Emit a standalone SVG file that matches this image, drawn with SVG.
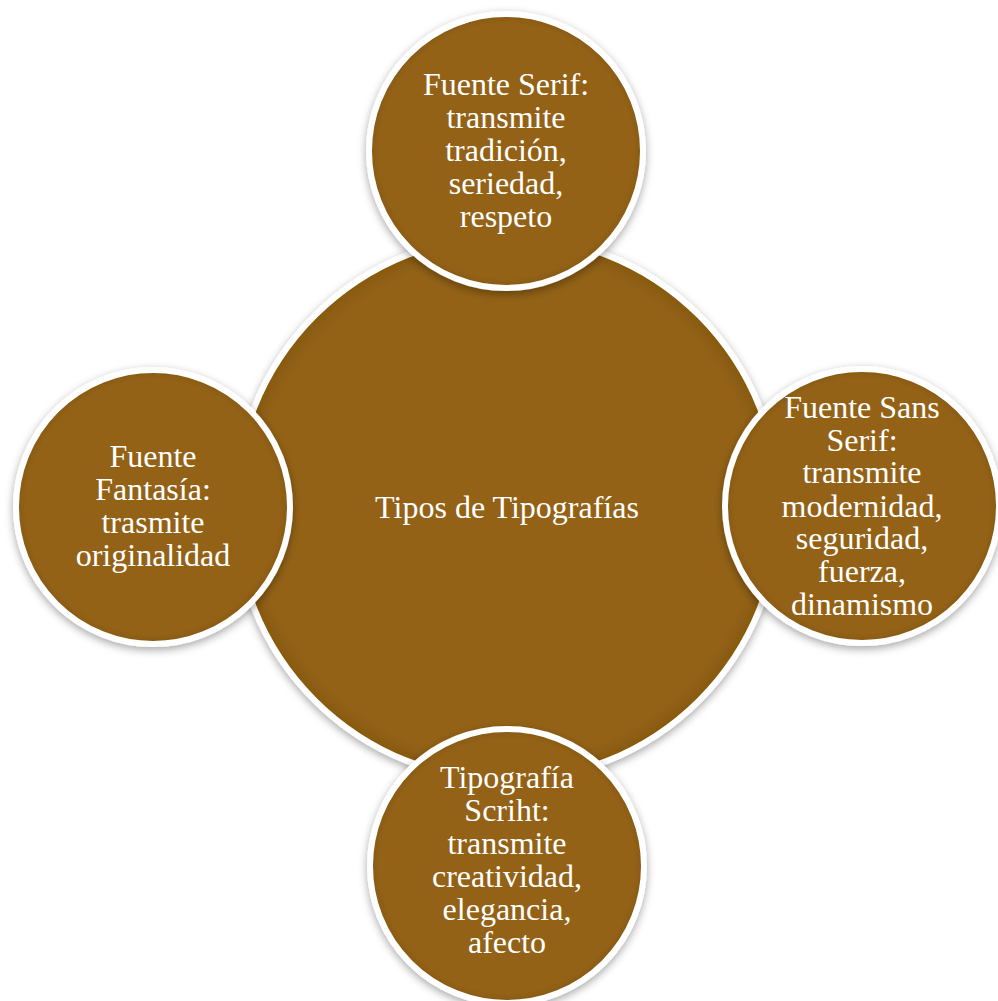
<svg xmlns="http://www.w3.org/2000/svg" width="998" height="1001" viewBox="0 0 998 1001">
<defs>
<filter id="sh" x="-20%" y="-20%" width="140%" height="140%">
<feDropShadow dx="0" dy="3" stdDeviation="4" flood-color="#000" flood-opacity="0.35"/>
</filter>
<radialGradient id="g" cx="50%" cy="50%" r="50%">
<stop offset="0.93" stop-color="#936215"/>
<stop offset="1" stop-color="#86580f"/>
</radialGradient>
</defs>
<style>
.c{fill:url(#g);stroke:#fff;stroke-width:6;filter:url(#sh)}
text{font-family:"Liberation Serif","Times New Roman",serif;font-size:32px;fill:#fff;text-anchor:middle}
</style>
<rect width="998" height="1001" fill="#fff"/>
<g id="connectors"/>
<g id="center">
<circle class="c" cx="507" cy="508" r="272"/>
<text x="507" y="518">Tipos de Tipografías</text>
</g>
<g id="top">
<circle class="c" cx="506" cy="151" r="137"/>
<text x="506" y="95">Fuente Serif:</text>
<text x="506" y="128">transmite</text>
<text x="506" y="161">tradición,</text>
<text x="506" y="194">seriedad,</text>
<text x="506" y="227">respeto</text>
</g>
<g id="right">
<circle class="c" cx="862" cy="506" r="137"/>
<text x="862" y="418">Fuente Sans</text>
<text x="862" y="451">Serif:</text>
<text x="862" y="483">transmite</text>
<text x="862" y="517">modernidad,</text>
<text x="862" y="549">seguridad,</text>
<text x="862" y="582">fuerza,</text>
<text x="862" y="615">dinamismo</text>
</g>
<g id="bottom">
<circle class="c" cx="507" cy="866" r="137"/>
<text x="507" y="788">Tipografía</text>
<text x="507" y="821">Scriht:</text>
<text x="507" y="854">transmite</text>
<text x="507" y="887">creatividad,</text>
<text x="507" y="920">elegancia,</text>
<text x="507" y="953">afecto</text>
</g>
<g id="left">
<circle class="c" cx="153" cy="507" r="137"/>
<text x="153" y="467">Fuente</text>
<text x="153" y="500">Fantasía:</text>
<text x="153" y="533">trasmite</text>
<text x="153" y="566">originalidad</text>
</g>
</svg>
